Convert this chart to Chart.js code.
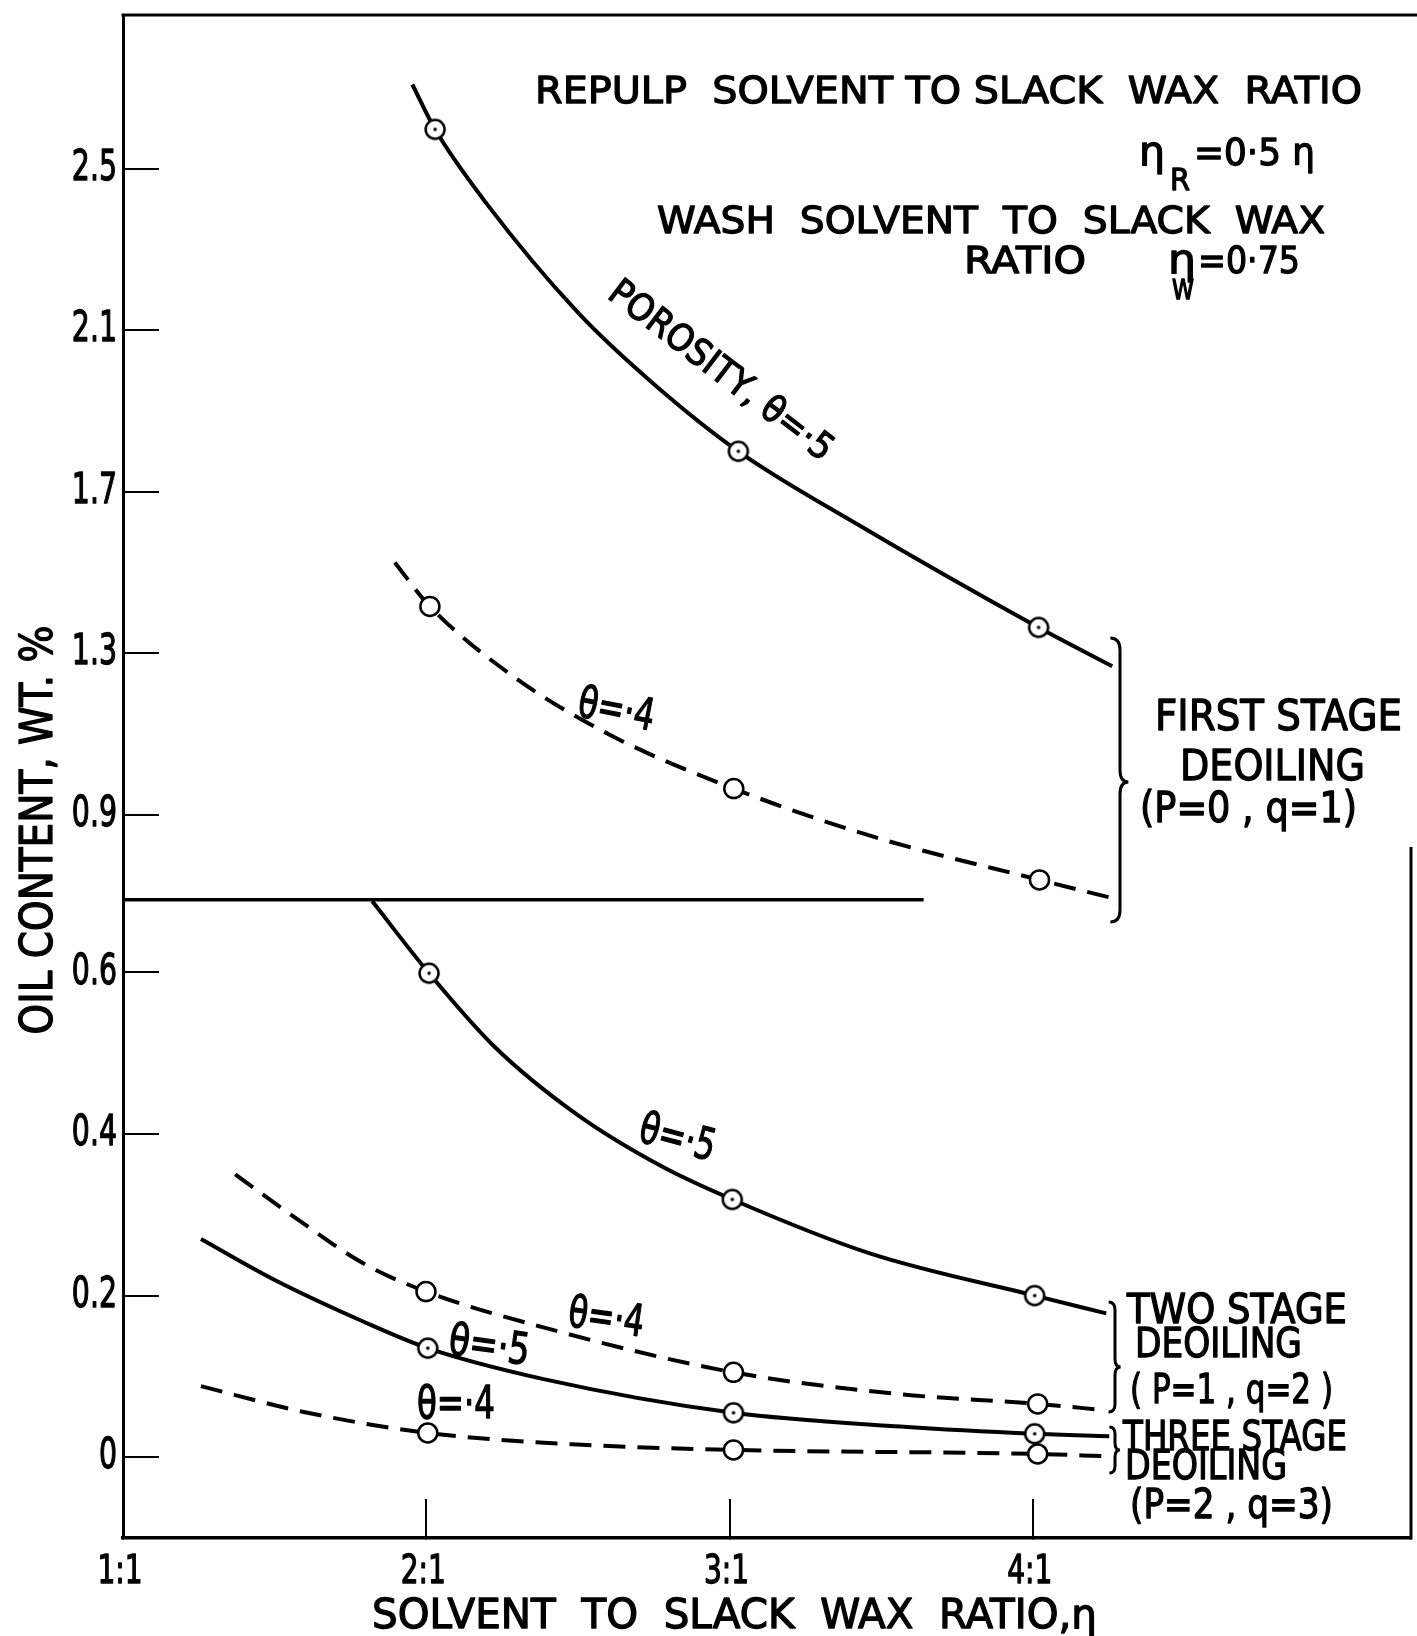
<!DOCTYPE html>
<html>
<head>
<meta charset="utf-8">
<script src="https://cdn.jsdelivr.net/npm/chart.js@4.4.1/dist/chart.umd.min.js"></script>
<style>
  html, body { margin: 0; padding: 0; background: #fff; }
  canvas { display: block; }
</style>
</head>
<body>
<canvas id="chart" width="1417" height="1636"></canvas>
<script>
// axis ticks
const N_TICKS = [1, 2, 3, 4];
const N_TICK_LABELS = ['1:1', '2:1', '3:1', '4:1'];
const OIL_TICKS_LOW = [0, 0.2, 0.4, 0.6];
const OIL_TICKS_HIGH = [0.9, 1.3, 1.7, 2.1, 2.5];
const OIL_BREAK = 0.69;
const BREAK_N = [1, 3.64];

// first stage deoiling (p=0, q=1) - upper part of the broken axis
const stage1Theta5N   = [1.954, 2.029, 2.197, 2.502, 2.748, 3.029, 3.420, 4.019, 4.262];
const stage1Theta5Oil = [2.708, 2.597, 2.415, 2.142, 1.968, 1.800, 1.620, 1.364, 1.268];
const stage1Theta5Marks = [1, 5, 7];

const stage1Theta4N   = [1.896, 2.012, 2.296, 2.611, 3.014, 3.474, 4.022, 4.262];
const stage1Theta4Oil = [1.525, 1.416, 1.238, 1.096, 0.965, 0.846, 0.739, 0.694];
const stage1Theta4Marks = [1, 4, 6];

// two stage deoiling (p=1, q=2)
const stage2Theta5N   = [1.822, 2.009, 2.225, 2.501, 2.776, 3.009, 3.465, 4.006, 4.242];
const stage2Theta5Oil = [0.688, 0.599, 0.508, 0.423, 0.360, 0.319, 0.252, 0.200, 0.178];
const stage2Theta5Marks = [1, 5, 7];

const stage2Theta4N   = [1.370, 1.596, 1.792, 1.999, 2.383, 3.013, 3.563, 4.016, 4.242];
const stage2Theta4Oil = [0.350, 0.289, 0.240, 0.205, 0.161, 0.105, 0.078, 0.066, 0.058];
const stage2Theta4Marks = [3, 5, 7];

// three stage deoiling (p=2, q=3)
const stage3Theta5N   = [1.257, 1.497, 1.792, 2.005, 2.383, 3.013, 3.563, 4.006, 4.252];
const stage3Theta5Oil = [0.270, 0.220, 0.168, 0.135, 0.097, 0.055, 0.038, 0.029, 0.026];
const stage3Theta5Marks = [3, 5, 7];

const stage3Theta4N   = [1.257, 1.596, 2.005, 2.481, 3.013, 4.016, 4.252];
const stage3Theta4Oil = [0.088, 0.056, 0.030, 0.016, 0.009, 0.004, 0.001];
const stage3Theta4Marks = [2, 4, 5];

const FONT = "'DejaVu Sans', sans-serif";
const MARK_R = 9.5;

// open circle with a dot in it, used on the solid curves
function dottedRing() {
  const bw = 2.5;
  const s = Math.ceil(2 * (MARK_R + bw));
  const c = document.createElement('canvas');
  c.width = c.height = s;
  const g = c.getContext('2d');
  g.beginPath();
  g.arc(s / 2, s / 2, MARK_R, 0, Math.PI * 2);
  g.fillStyle = '#fff';
  g.fill();
  g.lineWidth = bw;
  g.strokeStyle = '#000';
  g.stroke();
  g.beginPath();
  g.arc(s / 2, s / 2, 1.8, 0, Math.PI * 2);
  g.fillStyle = '#000';
  g.fill();
  return c;
}
const RING_DOT = dottedRing();

function curve(ns, oils, marks, axis, dashed) {
  return {
    data: ns.map((n, i) => ({ x: n, y: oils[i] })),
    yAxisID: axis,
    borderColor: '#000',
    borderWidth: 4,
    borderDash: dashed ? [22, 12] : [],
    cubicInterpolationMode: 'monotone',
    clip: 4,
    pointStyle: dashed ? 'circle' : RING_DOT,
    pointRadius: ctx => marks.includes(ctx.dataIndex) ? MARK_R : 0,
    pointBackgroundColor: '#fff',
    pointBorderColor: '#000',
    pointBorderWidth: 2.5,
  };
}

const datasets = [
  {
    data: BREAK_N.map(n => ({ x: n, y: OIL_BREAK })),
    yAxisID: 'yLow',
    borderColor: '#000',
    borderWidth: 3.5,
    pointRadius: 0,
    clip: false,
  },
  curve(stage1Theta5N, stage1Theta5Oil, stage1Theta5Marks, 'yHigh', false),
  curve(stage1Theta4N, stage1Theta4Oil, stage1Theta4Marks, 'yHigh', true),
  curve(stage2Theta5N, stage2Theta5Oil, stage2Theta5Marks, 'yLow', false),
  curve(stage2Theta4N, stage2Theta4Oil, stage2Theta4Marks, 'yLow', true),
  curve(stage3Theta5N, stage3Theta5Oil, stage3Theta5Marks, 'yLow', false),
  curve(stage3Theta4N, stage3Theta4Oil, stage3Theta4Marks, 'yLow', true),
];

// text squeezed to a width (w) or by a factor (o.sx), like the narrow hand lettering
function put(ctx, s, x, y, size, w, o = {}) {
  ctx.save();
  ctx.font = size + 'px ' + FONT;
  ctx.fillStyle = '#000';
  ctx.strokeStyle = '#000';
  ctx.lineWidth = 1.3;
  ctx.lineJoin = 'round';
  ctx.textAlign = o.align || 'left';
  ctx.textBaseline = o.base || 'alphabetic';
  ctx.translate(x, y);
  if (o.rot) ctx.rotate(o.rot * Math.PI / 180);
  if (w) ctx.scale(w / ctx.measureText(s).width, 1);
  else if (o.sx) ctx.scale(o.sx, 1);
  ctx.fillText(s, 0, 0);
  ctx.strokeText(s, 0, 0);
  ctx.restore();
}

// right-pointing curly brace
function brace(ctx, x, y1, y2, ym, w) {
  ctx.beginPath();
  ctx.moveTo(x - w * 0.8, y1);
  ctx.quadraticCurveTo(x, y1, x, y1 + w);
  ctx.lineTo(x, ym - w);
  ctx.quadraticCurveTo(x, ym, x + w * 0.7, ym);
  ctx.quadraticCurveTo(x, ym, x, ym + w);
  ctx.lineTo(x, y2 - w);
  ctx.quadraticCurveTo(x, y2, x - w * 0.8, y2);
  ctx.stroke();
}

const fmt = v => v === 0 ? '0' : v.toFixed(1);

const decor = {
  id: 'decor',
  afterDraw(chart) {
    const ctx = chart.ctx;
    const a = chart.chartArea;
    ctx.save();

    // tick labels from the axes' own ticks
    for (const id of ['yLow', 'yHigh']) {
      const s = chart.scales[id];
      s.ticks.forEach(t => {
        put(ctx, fmt(t.value), s.right - 6, s.getPixelForValue(t.value), 43, 0,
          { align: 'right', base: 'middle', sx: 0.66 });
      });
    }
    const xs = chart.scales.x;
    xs.ticks.forEach((t, i) => {
      put(ctx, N_TICK_LABELS[i], xs.getPixelForValue(t.value) - 3, 1573, 39, 0,
        { align: 'center', base: 'middle', sx: 0.72 });
    });

    ctx.strokeStyle = '#000';
    ctx.lineWidth = 3;
    ctx.beginPath();
    ctx.moveTo(a.left - 1.5, a.top);
    ctx.lineTo(chart.width, a.top);
    ctx.stroke();
    ctx.beginPath();
    ctx.moveTo(a.right, 847);
    ctx.lineTo(a.right, a.bottom + 1.5);
    ctx.stroke();

    ctx.lineWidth = 3;
    brace(ctx, 1120, 638, 922, 782, 12);
    brace(ctx, 1115, 1302, 1412, 1367, 8);
    brace(ctx, 1115, 1427, 1473, 1450, 7);

    // conditions block
    put(ctx, 'REPULP  SOLVENT TO SLACK  WAX  RATIO', 535, 103, 38, 827);
    put(ctx, 'η', 1139, 165, 40, 26);
    put(ctx, 'R', 1170, 190, 30, 20);
    put(ctx, '=0·5 η', 1194, 165, 38, 121);
    put(ctx, 'WASH  SOLVENT  TO  SLACK  WAX', 657, 233, 38, 668);
    put(ctx, 'RATIO', 964, 273, 38, 122);
    put(ctx, 'η', 1168, 273, 40, 28);
    put(ctx, 'W', 1172, 299, 26, 22);
    put(ctx, '=0·75', 1198, 273, 38, 102);

    // curve labels
    put(ctx, 'POROSITY, θ=·5', 720, 372, 37, 272, { align: 'center', base: 'middle', rot: 37.4 });
    put(ctx, 'θ=·4', 616, 712, 44, 77, { align: 'center', base: 'middle', rot: 11 });
    put(ctx, 'θ=·5', 677, 1140, 44, 77, { align: 'center', base: 'middle', rot: 15 });
    put(ctx, 'θ=·4', 606, 1320, 44, 76, { align: 'center', base: 'middle', rot: 8 });
    put(ctx, 'θ=·5', 489, 1348, 44, 81, { align: 'center', base: 'middle', rot: 8 });
    put(ctx, 'θ=·4', 456, 1407, 44, 78, { align: 'center', base: 'middle' });

    // stage labels
    put(ctx, 'FIRST STAGE', 1155, 730, 42, 247);
    put(ctx, 'DEOILING', 1180, 780, 42, 185);
    put(ctx, '(P=0 , q=1)', 1140, 822, 42, 217);
    put(ctx, 'TWO STAGE', 1127, 1323, 40, 220);
    put(ctx, 'DEOILING', 1135, 1357, 40, 167);
    put(ctx, '( P=1 , q=2 )', 1130, 1403, 40, 203);
    put(ctx, 'THREE STAGE', 1123, 1450, 40, 224);
    put(ctx, 'DEOILING', 1125, 1479, 40, 162);
    put(ctx, '(P=2 , q=3)', 1130, 1518, 40, 203);

    // axis titles
    put(ctx, 'OIL CONTENT, WT. %', 52, 830, 44, 409, { align: 'center', rot: -90 });
    put(ctx, 'SOLVENT  TO  SLACK  WAX  RATIO,η', 372, 1628, 40, 725);
    ctx.restore();
  }
};

function oilAxis(min, max, weight, ticks) {
  return {
    type: 'linear',
    position: 'left',
    stack: 'oil',
    stackWeight: weight,
    bounds: 'data',
    min: min,
    max: max,
    afterBuildTicks: s => { s.ticks = ticks.map(v => ({ value: v })); },
    afterFit: s => { s.width = 123; s.paddingTop = 0; s.paddingBottom = 0; },
    ticks: { display: false },
    grid: { drawOnChartArea: false, tickLength: -36, lineWidth: 2, color: '#000' },
    border: { color: '#000', width: 3 },
  };
}

new Chart(document.getElementById('chart'), {
  type: 'line',
  data: { datasets },
  options: {
    responsive: false,
    devicePixelRatio: 1,
    animation: false,
    events: [],
    layout: { padding: { left: 0, right: 6, top: 15, bottom: 0 } },
    plugins: { legend: { display: false }, tooltip: { enabled: false } },
    scales: {
      x: {
        type: 'linear',
        bounds: 'data',
        min: 1,
        max: 5.247,
        afterBuildTicks: s => { s.ticks = N_TICKS.map(v => ({ value: v })); },
        afterFit: s => { s.height = 98; s.paddingLeft = 0; s.paddingRight = 0; },
        ticks: { display: false },
        grid: { drawOnChartArea: false, tickLength: -39, lineWidth: 2, color: '#000' },
        border: { color: '#000', width: 3.5 },
      },
      yLow: oilAxis(-0.1, OIL_BREAK, 1.58, OIL_TICKS_LOW),
      yHigh: oilAxis(OIL_BREAK, 2.88, 2.19, OIL_TICKS_HIGH),
    },
  },
  plugins: [decor],
});
</script>
</body>
</html>
